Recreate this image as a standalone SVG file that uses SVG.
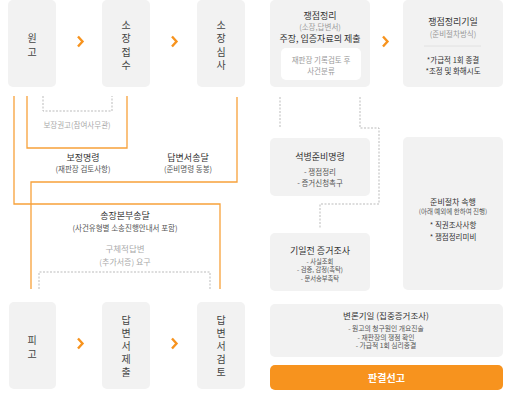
<svg xmlns="http://www.w3.org/2000/svg" width="512" height="411" viewBox="0 0 512 411">
<style>
.box{fill:#f2f2f2}
.t{font-family:"Noto Sans CJK KR","Noto Sans",sans-serif;text-anchor:middle;dominant-baseline:central}
.v{font-size:10px;fill:#444}
.h{font-size:9px;fill:#333}
.s{font-size:7.5px;fill:#555}
.g{font-size:7.5px;fill:#aaa}
.o{fill:none;stroke:#f7a13a;stroke-width:1.3}
.d{fill:none;stroke:#bbb;stroke-width:1;stroke-dasharray:2,1.5}
.chev{fill:none;stroke:#f7931e;stroke-width:2.4}
</style>
<rect width="512" height="411" fill="#fff"/>
<g id="connectors">
<path class="o" d="M14,96V204H220V289"/>
<path class="o" d="M27,96V148H127V96"/>
<path class="o" d="M237,97V182H31V289"/>
<path class="d" d="M43,96V111H112V96"/>
<path class="d" d="M39,289V272H210V289"/>
<path class="d" d="M280,97V128"/>
<path class="d" d="M360,97V128H379V204H320V228"/>
<polyline class="chev" points="78,36.5 82.5,41.5 78,46.5"/>
<polyline class="chev" points="172,36.5 176.5,41.5 172,46.5"/>
<polyline class="chev" points="383,36.5 387.5,41.5 383,46.5"/>
<polyline class="chev" points="78,338.5 82.5,343.5 78,348.5"/>
<polyline class="chev" points="172,338.5 176.5,343.5 172,348.5"/>
<text class="t g" x="77" y="124">보장권고(참여사무관)</text>
<text class="t h" x="83" y="157">보정명령</text>
<text class="t s" x="83" y="168">(재판장 검토사항)</text>
<text class="t h" x="188" y="157">답변서송달</text>
<text class="t s" x="188" y="168">(준비명령 동봉)</text>
<text class="t h" x="125" y="215">송장본부송달</text>
<text class="t s" x="125" y="227">(사건유형별 소송진행안내서 포함)</text>
<text class="t" style="font-size:8.5px;fill:#aaa" x="125" y="248">구체적답변</text>
<text class="t" style="font-size:8px;fill:#aaa" x="125" y="261">(추가서증) 요구</text>
</g>
<g id="n-plaintiff"><rect class="box" x="8" y="0" width="48" height="87" rx="5"/>
<text class="t v" x="32" y="37">원</text><text class="t v" x="32" y="51">고</text></g>
<g id="n-receipt"><rect class="box" x="102" y="0" width="48" height="87" rx="5"/>
<text class="t v" x="126" y="24">소</text><text class="t v" x="126" y="37.5">장</text><text class="t v" x="126" y="51">접</text><text class="t v" x="126" y="64">수</text></g>
<g id="n-review"><rect class="box" x="197" y="0" width="48" height="87" rx="5"/>
<text class="t v" x="221" y="24">소</text><text class="t v" x="221" y="37.5">장</text><text class="t v" x="221" y="51">심</text><text class="t v" x="221" y="64">사</text></g>
<g id="n-issue"><rect class="box" x="270" y="0" width="100" height="87" rx="5"/>
<text class="t h" x="320" y="15">쟁점정리</text>
<text class="t g" style="fill:#999" x="320" y="26">(소장,답변서)</text>
<text class="t h" x="320" y="38">주장, 입증자료의 제출</text>
<rect x="281" y="48" width="80" height="32" rx="5" fill="#fff"/>
<text class="t g" style="fill:#999" x="321" y="59">재판장 기록검토 후</text>
<text class="t g" style="fill:#999" x="321" y="70">사건분류</text></g>
<g id="n-issue-date"><rect class="box" x="403" y="0" width="100" height="87" rx="5"/>
<text class="t h" x="453" y="21">쟁점정리기일</text>
<text class="t g" style="fill:#999" x="453" y="33">(준비절차방식)</text>
<line x1="424" y1="46" x2="481" y2="46" stroke="#ddd" stroke-width="0.8"/>
<text class="t s" style="fill:#333" x="453" y="59">*가급적 1회 종결</text>
<text class="t s" style="fill:#333" x="453" y="70">*조정 및 화해시도</text></g>
<g id="n-prep-order"><rect class="box" x="270" y="138" width="100" height="58" rx="5"/>
<text class="t h" x="320" y="156">석병준비명령</text>
<text class="t s" x="320" y="171">- 쟁점정리</text>
<text class="t s" x="320" y="182">- 증거신청촉구</text></g>
<g id="n-pre-evidence"><rect class="box" x="270" y="233" width="100" height="58" rx="5"/>
<text class="t h" x="320" y="250">기일전 증거조사</text>
<text class="t" style="font-size:6.3px;fill:#555" x="320" y="261">- 사실조회</text>
<text class="t" style="font-size:6.3px;fill:#555" x="320" y="269.5">- 검증, 감정(촉탁)</text>
<text class="t" style="font-size:6.3px;fill:#555" x="320" y="278">- 문서송부촉탁</text></g>
<g id="n-prep-continue"><rect class="box" x="403" y="137" width="100" height="153" rx="5"/>
<text class="t" style="font-size:8px;fill:#333" x="453" y="201">준비절차 속행</text>
<text class="t" style="font-size:6.5px;fill:#555" x="453" y="211">(아래 예외에 한하여 진행)</text>
<text class="t" style="font-size:7.5px;fill:#333" x="453" y="224">* 직권조사사항</text>
<text class="t" style="font-size:7.5px;fill:#333" x="453" y="236">* 쟁점정리미비</text></g>
<g id="n-defendant"><rect class="box" x="9" y="302" width="47" height="87" rx="5"/>
<text class="t v" x="32" y="339">피</text><text class="t v" x="32" y="353">고</text></g>
<g id="n-answer-submit"><rect class="box" x="102" y="302" width="48" height="87" rx="5"/>
<text class="t v" x="126" y="319">답</text><text class="t v" x="126" y="332">변</text><text class="t v" x="126" y="345">서</text><text class="t v" x="126" y="358">제</text><text class="t v" x="126" y="371">출</text></g>
<g id="n-answer-review"><rect class="box" x="197" y="302" width="48" height="87" rx="5"/>
<text class="t v" x="221" y="319">답</text><text class="t v" x="221" y="332">변</text><text class="t v" x="221" y="345">서</text><text class="t v" x="221" y="358">검</text><text class="t v" x="221" y="371">토</text></g>
<g id="n-hearing"><rect class="box" x="270" y="304" width="233" height="53" rx="5"/>
<text class="t" style="font-size:8.5px;fill:#333" x="386" y="315">변론기일 (집중증거조사)</text>
<text class="t" style="font-size:6.8px;fill:#555" x="386" y="328">- 원고의 청구원인 개요진술</text>
<text class="t" style="font-size:6.8px;fill:#555" x="386" y="336.5">- 재판장의 쟁점 확인</text>
<text class="t" style="font-size:6.8px;fill:#555" x="386" y="345">- 가급적 1회 심리종결</text></g>
<g id="n-judgment"><rect x="270" y="365" width="233" height="25" rx="5" fill="#f7931e"/>
<text class="t" style="font-size:10px;font-weight:bold;fill:#fff" x="386.5" y="377.5">판결선고</text></g>
</svg>
